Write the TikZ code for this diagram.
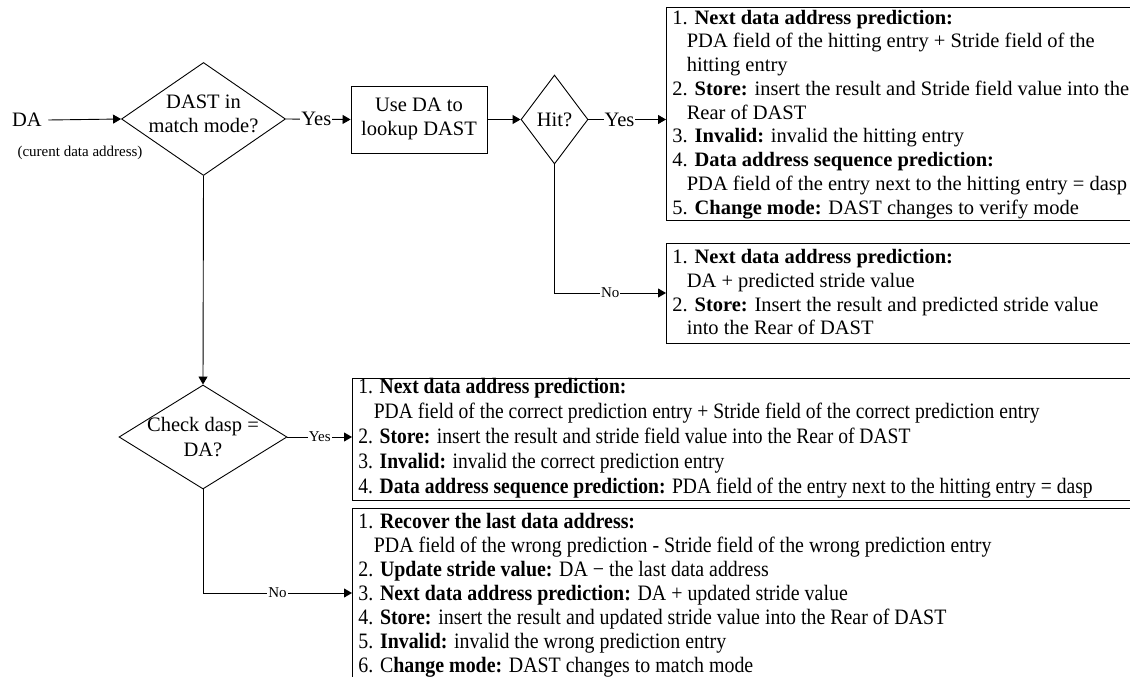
\documentclass[tikz,border=0pt]{standalone}
\usepackage{fontspec}
\setmainfont{Liberation Serif}
\newfontfamily\condfontA[FakeStretch=0.89]{Liberation Serif}
\newfontfamily\condfontB[FakeStretch=0.905]{Liberation Serif}
\usetikzlibrary{shapes.geometric,arrows.meta}
\newcommand\ind{\hspace*{0.7em}}
\begin{document}
\begin{tikzpicture}[x=1pt,y=-1pt,line width=0.9pt,
  decision/.style={draw,diamond,inner sep=0pt},
  procbox/.style={draw,rectangle,inner sep=0pt},
  listbox/.style={draw,rectangle,inner sep=0pt,anchor=north west},
  txt/.style={inner sep=0pt,anchor=north west,align=left,font=\fontsize{20.5}{23.75}\selectfont},
  ctxt/.style={inner sep=0pt,anchor=base west,font=\condfontA\fontsize{22}{25.2}\selectfont},
  ctxtb/.style={inner sep=0pt,anchor=base west,font=\condfontB\fontsize{22}{24}\selectfont},
  mtxt/.style={inner sep=0pt,align=center,font=\fontsize{20.5}{24.5}\selectfont},
  flow/.style={-{Triangle[length=8pt,width=9pt]}},
  lbl/.style={fill=white,inner sep=1pt,font=\fontsize{20.5}{22}\selectfont},
  slbl/.style={fill=white,inner sep=1pt,font=\fontsize{15}{16}\selectfont}]
\useasboundingbox (0,0) rectangle (1130,677);
\clip (0,0) rectangle (1130,677);
\fill[white] (0,0) rectangle (1130,677);

% left start
\node[mtxt] (da) at (27,120) {DA};
\node[inner sep=0pt,font=\fontsize{15}{16}\selectfont] (daex) at (80,153) {(curent data address)};

% decisions and process
\node[decision,minimum width=164pt,minimum height=113pt] (d1) at (203.5,119) {};
\node[mtxt] (d1t) at (203.5,114) {DAST in\\match mode?};
\node[procbox,minimum width=136pt,minimum height=67pt] (b1) at (419,119.5) {};
\node[mtxt] (b1t) at (419,119) {Use DA to\\lookup DAST};
\node[decision,minimum width=67pt,minimum height=89pt] (hit) at (554.5,119.5) {};
\node[mtxt] (hitt) at (554.5,120) {Hit?};
\node[decision,minimum width=168pt,minimum height=104pt] (d2) at (203,437) {};
\node[mtxt] (d2t) at (203,437) {Check dasp =\\DA?};

% list boxes
\node[listbox,minimum width=480pt,minimum height=213pt] (box2) at (666,7) {};
\node[listbox,minimum width=480pt,minimum height=100pt] (box3) at (666,243) {};
\node[listbox,minimum width=800pt,minimum height=122pt] (box4) at (352,378) {};
\node[listbox,minimum width=800pt,minimum height=200pt] (box5) at (352,508) {};

\node[txt] (box2t) at (672,9.5) {1. \textbf{Next data address prediction:}\\
\ind PDA field of the hitting entry + Stride field of the\\
\ind hitting entry\\
2. \textbf{Store:} insert the result and Stride field value into the\\
\ind Rear of DAST\\
3. \textbf{Invalid:} invalid the hitting entry\\
4. \textbf{Data address sequence prediction:}\\
\ind PDA field of the entry next to the hitting entry = dasp\\
5. \textbf{Change mode:} DAST changes to verify mode};

\node[txt] (box3t) at (672,249) {1. \textbf{Next data address prediction:}\\
\ind DA + predicted stride value\\
2. \textbf{Store:} Insert the result and predicted stride value\\
\ind into the Rear of DAST};

\node[ctxt] (box4t) at (358,393) {\begin{tabular}[t]{@{}l@{}}
1. \textbf{Next data address prediction:}\\
\ind PDA field of the correct prediction entry + Stride field of the correct prediction entry\\
2. \textbf{Store:} insert the result and stride field value into the Rear of DAST\\
3. \textbf{Invalid:} invalid the correct prediction entry\\
4. \textbf{Data address sequence prediction:} PDA field of the entry next to the hitting entry = dasp
\end{tabular}};

\node[ctxtb] (box5t) at (358,528.5) {\begin{tabular}[t]{@{}l@{}}
1. \textbf{Recover the last data address:}\\
\ind PDA field of the wrong prediction - Stride field of the wrong prediction entry\\
2. \textbf{Update stride value:} DA − the last data address\\
3. \textbf{Next data address prediction:} DA + updated stride value\\
4. \textbf{Store:} insert the result and updated stride value into the Rear of DAST\\
5. \textbf{Invalid:} invalid the wrong prediction entry\\
6. C\textbf{hange mode:} DAST changes to match mode
\end{tabular}};

% connectors
\coordinate (dastart) at ([xshift=6pt]da.east);
\draw[flow] (dastart) -- (d1.west);
\draw[flow] (d1.east) -- node[lbl,pos=0.47] {Yes} (b1.west);
\draw[flow] (b1.east) -- (hit.west);
\draw[flow] (hit.east) -- node[lbl,pos=0.4] {Yes} (hit.east -| box2.west);
\coordinate (hitcorner) at (hit.south |- 0,293);
\draw[flow] (hit.south) -- (hitcorner) -- node[slbl] {No} (hitcorner -| box3.west);
\draw[flow] (d1.south) -- (d2.north);
\draw[flow] (d2.east) -- node[slbl] {Yes} (d2.east -| box4.west);
\coordinate (d2corner) at (d2.south |- 0,593);
\draw[flow] (d2.south) -- (d2corner) -- node[slbl] {No} (d2corner -| box5.west);
\end{tikzpicture}
\end{document}
